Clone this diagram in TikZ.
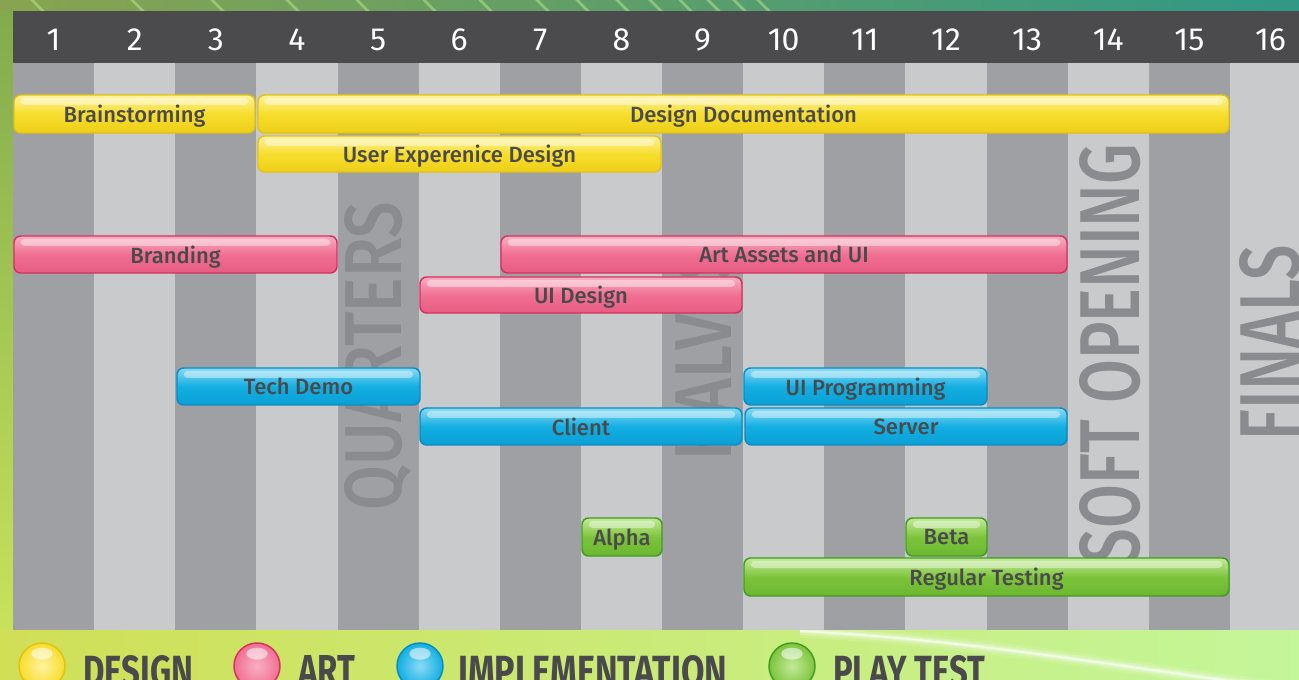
\documentclass[tikz,border=0pt]{standalone}
\usepackage{fontspec}
\usepackage{graphicx}
\setmainfont{Fira Sans}
\newfontfamily\labelfont{Fira Sans Medium}
\newlength\px
\setlength\px{0.75pt}

% palette
\definecolor{headgray}{HTML}{4B4B4D}
\definecolor{coldark}{HTML}{9FA0A4}
\definecolor{collight}{HTML}{C9CACC}
\definecolor{msgray}{HTML}{8A8B8F}
\definecolor{labelgray}{HTML}{4A4A4C}
\definecolor{streak}{RGB}{190,235,140}
\definecolor{ytop}{HTML}{FFF3A0}\definecolor{ymid}{HTML}{F7DD2C}\definecolor{ybot}{HTML}{EDCF18}\definecolor{ybord}{HTML}{E2C210}
\definecolor{ptop}{HTML}{F9AFC3}\definecolor{pmid}{HTML}{F06F92}\definecolor{pbot}{HTML}{E85C82}\definecolor{pbord}{HTML}{D8305E}
\definecolor{btop}{HTML}{8ADAF5}\definecolor{bmid}{HTML}{12AEE2}\definecolor{bbot}{HTML}{0BA0D6}\definecolor{bbord}{HTML}{0A8CC2}
\definecolor{gtop}{HTML}{C4EA98}\definecolor{gmid}{HTML}{7DC43C}\definecolor{gbot}{HTML}{6CB630}\definecolor{gbord}{HTML}{3F9C22}

\tikzset{
  bar/.style={rounded corners=5pt, line width=1.1pt, inner sep=0pt, text depth=0pt,
    font=\labelfont\fontsize{16.5}{17}\selectfont, text=labelgray,
    path picture={\fill[white, opacity=0.42, rounded corners=3pt]
      ([xshift=5pt,yshift=-2.2pt]path picture bounding box.north west) rectangle
      ([xshift=-5pt,yshift=-7.5pt]path picture bounding box.north east);}},
  designbar/.style={bar, draw=ybord, top color=ytop, bottom color=ybot, middle color=ymid},
  artbar/.style={bar, draw=pbord, top color=ptop, bottom color=pbot, middle color=pmid},
  implbar/.style={bar, draw=bbord, top color=btop, bottom color=bbot, middle color=bmid},
  testbar/.style={bar, draw=gbord, top color=gtop, bottom color=gbot, middle color=gmid},
  headnum/.style={text=white, font=\fontsize{24}{24}\selectfont, inner sep=0pt},
  milestone/.style={rotate=90, inner sep=0pt, text=msgray},
  legball/.style={circle, minimum size=46\px, inner sep=0pt, line width=1.1pt,
    path picture={\fill[white, opacity=0.55]
      ([yshift=-8pt]path picture bounding box.north) ellipse (8pt and 4.5pt);}},
  legtext/.style={anchor=north west, inner sep=0pt, text=labelgray},
}

% one bar of the schedule: style, name, left, right, top, bottom, label
\newcommand\gbar[7]{%
  \node[#1, minimum width={(#4-#3)*0.75pt}, minimum height={(#6-#5)*0.75pt}]
    (#2) at ({(#3+#4)/2},{(#5+#6)/2}) {#7};}

\begin{document}
\begin{tikzpicture}[x=0.75pt, y=-0.75pt]
\useasboundingbox (0,0) rectangle (1299,680);
\clip (0,0) rectangle (1299,680);

% backdrop
\shade[left color={rgb,255:red,196;green,220;blue,82}, right color={rgb,255:red,184;green,240;blue,140}] (0,0) rectangle (1299,680);
\shade[top color={rgb,255:red,128;green,170;blue,78}, bottom color={rgb,255:red,200;green,226;blue,90}] (0,0) rectangle (13,630);
\shade[left color={rgb,255:red,136;green,164;blue,80}, middle color={rgb,255:red,96;green,158;blue,108}, right color={rgb,255:red,48;green,152;blue,134}] (0,0) rectangle (1299,11);
\foreach \s in {30,130,210,285,355,422,478,535,575,615,648,678,706,732,756}
  \draw[streak, opacity=0.5, line width=2pt] (\s,-2) -- (\s+14,12);
\shade[left color={rgb,255:red,208;green,223;blue,86}, middle color={rgb,255:red,232;green,242;blue,118}, right color={rgb,255:red,196;green,246;blue,154}] (0,630) rectangle (1299,680);
\foreach \w/\o in {10/0.12,6/0.2,3/0.35,1.2/0.6}
  \draw[white, opacity=\o, line width=\w pt] (800,631) .. controls (980,640) and (1150,672) .. (1299,690);

% header band and week numbers
\fill[headgray] (13,11) rectangle (1299,63);
\foreach \i in {1,...,16}{
  \pgfmathtruncatemacro\odd{mod(\i,2)}
  \ifnum\odd=1 \def\cc{coldark}\else\def\cc{collight}\fi
  \fill[\cc] ({13+81.13*(\i-1)},63) rectangle ({13+81.13*\i},630);
  \node[headnum] (h\i) at ({13+81.13*(\i-0.5)},40) {\i};
}

% milestone captions, set behind the bars
\node[milestone] (quarters) at (378.5,356) {\resizebox{308\px}{57\px}{\labelfont QUARTERS}};
\node[milestone] (halves)   at (703.5,352) {\resizebox{216\px}{57\px}{\labelfont HALVES}};
\node[milestone] (soft)     at (1110,354)  {\resizebox{420\px}{60\px}{\labelfont SOFT OPENING}};
\node[milestone] (finals)   at (1270,342.5){\resizebox{195\px}{60\px}{\labelfont FINALS}};

% design
\gbar{designbar}{brain}{14}{255}{95}{133}{Brainstorming}
\gbar{designbar}{docs}{258}{1229}{95}{133}{Design Documentation}
\gbar{designbar}{ux}{258}{661}{136}{172}{User Experenice Design}
% art
\gbar{artbar}{brand}{14}{337}{236}{273}{Branding}
\gbar{artbar}{assets}{501}{1067}{236}{273}{Art Assets and UI}
\gbar{artbar}{uides}{420}{742}{277}{313}{UI Design}
% implementation
\gbar{implbar}{demo}{177}{420}{368}{405}{Tech Demo}
\gbar{implbar}{uiprog}{744}{987}{368}{405}{UI Programming}
\gbar{implbar}{client}{420}{742}{408}{445}{Client}
\gbar{implbar}{server}{745}{1067}{408}{445}{Server}
% play test
\gbar{testbar}{alpha}{582}{662}{518}{556}{Alpha}
\gbar{testbar}{beta}{906}{987}{518}{556}{Beta}
\gbar{testbar}{regular}{744}{1229}{558}{596}{Regular Testing}

% legend
\node[legball, draw=ybord, inner color=ytop, outer color=ymid] (kdesign) at (42,666) {};
\node[legball, draw=pbord, inner color=ptop, outer color=pmid] (kart) at (257,666) {};
\node[legball, draw=bbord, inner color=btop, outer color=bmid] (kimpl) at (420,666) {};
\node[legball, draw=gbord, inner color=gtop, outer color=gmid] (ktest) at (792,666) {};
\node[legtext] (tdesign) at (83,655)  {\resizebox{110\px}{31\px}{\bfseries DESIGN}};
\node[legtext] (tart)    at (298,655) {\resizebox{57\px}{31\px}{\bfseries ART}};
\node[legtext] (timpl)   at (458,655) {\resizebox{269\px}{31\px}{\bfseries IMPLEMENTATION}};
\node[legtext] (ttest)   at (833,655) {\resizebox{152\px}{31\px}{\bfseries PLAY TEST}};
\end{tikzpicture}
\end{document}
